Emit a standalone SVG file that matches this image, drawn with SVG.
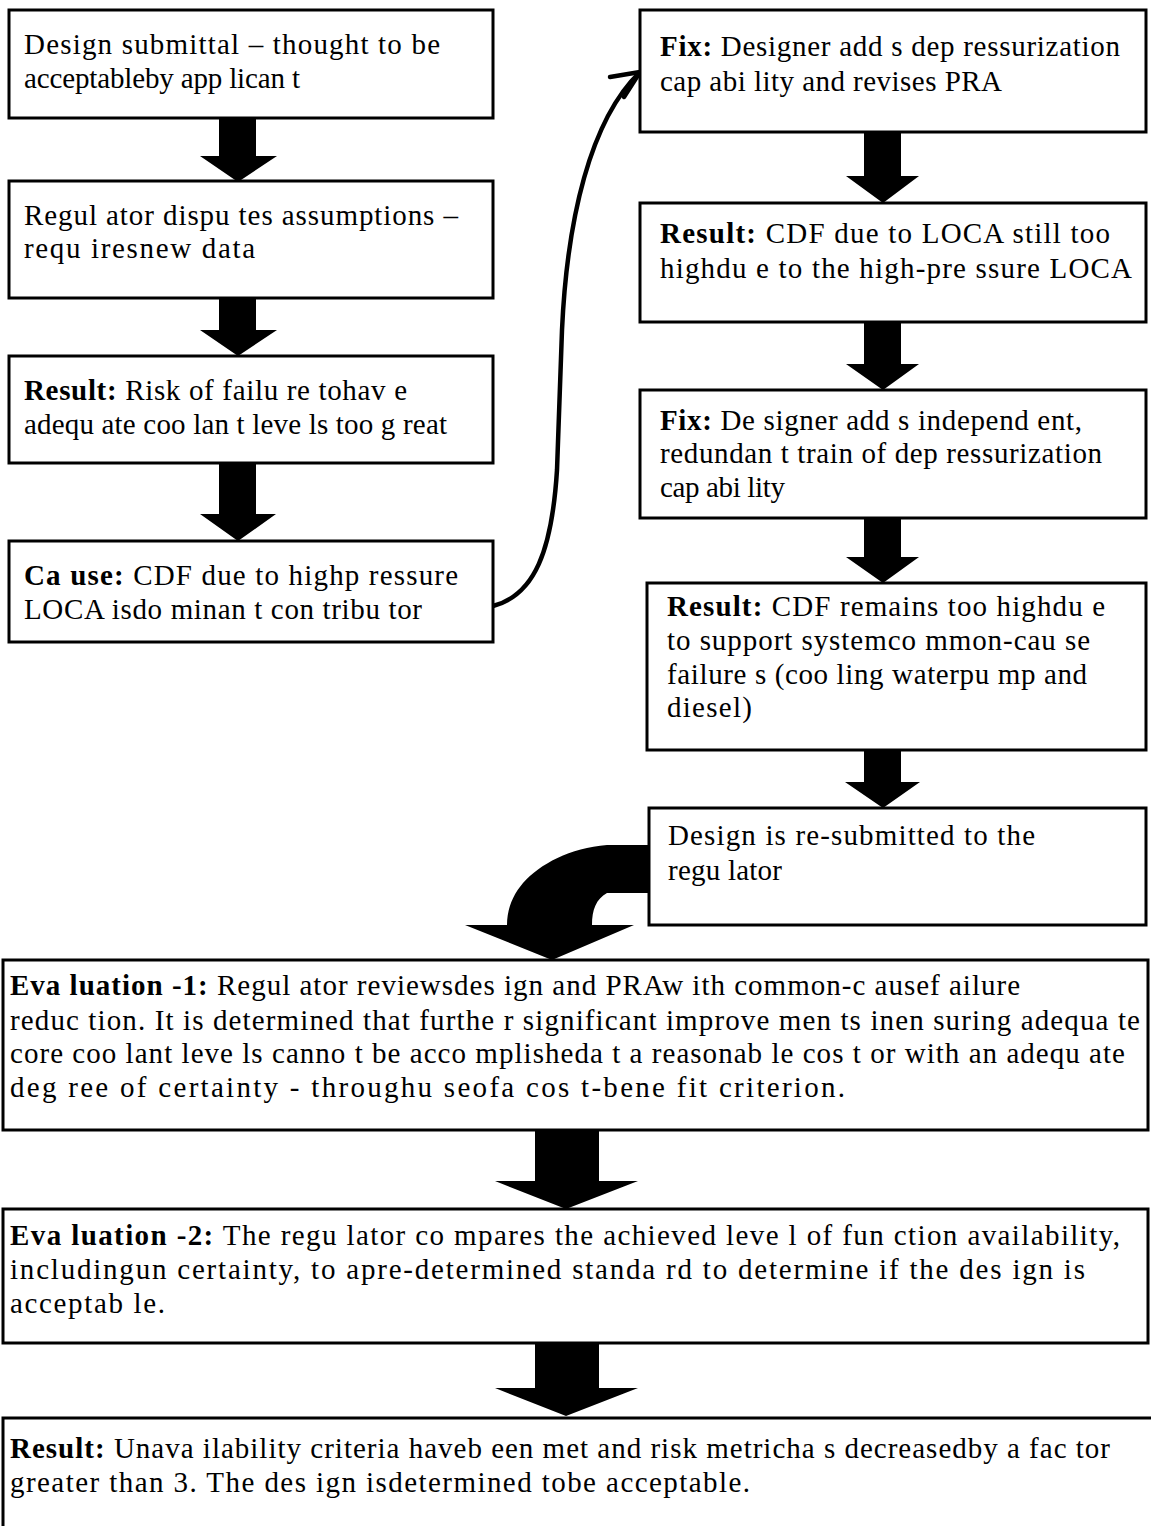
<svg xmlns="http://www.w3.org/2000/svg" width="1151" height="1526" viewBox="0 0 1151 1526">
  <style>
    .box { fill: #fff; stroke: #000; stroke-width: 3; }
    .blk { fill: #000; stroke: none; }
    .thin { fill: none; stroke: #000; stroke-width: 4.5; stroke-linecap: round; stroke-linejoin: round; }
    text { font-family: "Liberation Serif", "Times New Roman", serif; font-size: 29px; fill: #000; }
    .b { font-weight: bold; }
  </style>
  <rect width="1151" height="1526" fill="#fff"/>

  <!-- connectors -->
  <g id="connectors">
    <!-- left column block arrows -->
    <path class="blk" d="M219,118 H256 V156 H277 L238,182 L200,156 H219 Z"/>
    <path class="blk" d="M219,298 H256 V330 H277 L238,356 L200,330 H219 Z"/>
    <path class="blk" d="M219,463 H256 V514 H276 L238,541 L200,514 H219 Z"/>
    <!-- cause to first fix -->
    <path class="thin" d="M493,606 C535,595 552,550 557,470 L562,330 C567,220 590,120 640,72"/>
    <path class="thin" d="M610,77 L640,72 L624,97"/>
    <!-- right column block arrows -->
    <path class="blk" d="M864,132 H901 V176 H919 L883,203 L846,176 H864 Z"/>
    <path class="blk" d="M864,322 H901 V364 H919 L883,390 L846,364 H864 Z"/>
    <path class="blk" d="M864,518 H901 V557 H919 L883,583 L846,557 H864 Z"/>
    <path class="blk" d="M864,750 H901 V782 H920 L883,808 L845,782 H864 Z"/>
    <!-- resubmission to evaluation -->
    <path class="blk" d="M650,845 L607,845 C570,848 540,864 523,883 C512,896 507,910 507,925 L465,925 L552,960 L634,925 L592,925 C592,910 596,899 607,893 L650,893 Z"/>
    <!-- evaluation block arrows -->
    <path class="blk" d="M535,1130 H599 V1181 H638 L566,1209 L495,1181 H535 Z"/>
    <path class="blk" d="M535,1343 H599 V1388 H638 L566,1416 L495,1388 H535 Z"/>
  </g>

  <g id="n-submittal">
    <rect class="box" x="9" y="10" width="484" height="108"/>
    <text x="24" y="54" textLength="416" lengthAdjust="spacing">Design submittal – thought to be</text>
    <text x="24" y="88" textLength="276" lengthAdjust="spacing">acceptableby  app lican t</text>
  </g>
  <g id="n-dispute">
    <rect class="box" x="9" y="181" width="484" height="117"/>
    <text x="24" y="225" textLength="434" lengthAdjust="spacing">Regul ator dispu tes assumptions –</text>
    <text x="24" y="258" textLength="231" lengthAdjust="spacing">requ iresnew   data</text>
  </g>
  <g id="n-result-risk">
    <rect class="box" x="9" y="356" width="484" height="107"/>
    <text x="24" y="400" textLength="383" lengthAdjust="spacing"><tspan class="b">Result:</tspan> Risk of failu re tohav e</text>
    <text x="24" y="434" textLength="423" lengthAdjust="spacing">adequ ate coo lan t leve ls too g reat</text>
  </g>
  <g id="n-cause">
    <rect class="box" x="9" y="541" width="484" height="101"/>
    <text x="24" y="585" textLength="434" lengthAdjust="spacing"><tspan class="b">Ca use:</tspan> CDF due to highp ressure</text>
    <text x="24" y="619" textLength="398" lengthAdjust="spacing">LOCA  isdo minan t con tribu tor</text>
  </g>

  <g id="n-fix-1">
    <rect class="box" x="640" y="10" width="506" height="122"/>
    <text x="660" y="56" textLength="460" lengthAdjust="spacing"><tspan class="b">Fix:</tspan> Designer  add s dep ressurization</text>
    <text x="660" y="91" textLength="342" lengthAdjust="spacing">cap abi lity and  revises PRA</text>
  </g>
  <g id="n-result-1">
    <rect class="box" x="640" y="203" width="506" height="119"/>
    <text x="660" y="243" textLength="450" lengthAdjust="spacing"><tspan class="b">Result:</tspan> CDF due  to LOCA still too</text>
    <text x="660" y="278" textLength="472" lengthAdjust="spacing">highdu e to the high-pre ssure LOCA</text>
  </g>
  <g id="n-fix-2">
    <rect class="box" x="640" y="390" width="506" height="128"/>
    <text x="660" y="430" textLength="422" lengthAdjust="spacing"><tspan class="b">Fix:</tspan> De signer  add s independ ent,</text>
    <text x="660" y="463" textLength="442" lengthAdjust="spacing">redundan t train of dep ressurization</text>
    <text x="660" y="497" textLength="125" lengthAdjust="spacing">cap abi lity</text>
  </g>
  <g id="n-result-2">
    <rect class="box" x="647" y="583" width="499" height="167"/>
    <text x="667" y="616" textLength="438" lengthAdjust="spacing"><tspan class="b">Result:</tspan> CDF remains too  highdu e</text>
    <text x="667" y="650" textLength="423" lengthAdjust="spacing">to support systemco mmon-cau se</text>
    <text x="667" y="684" textLength="420" lengthAdjust="spacing">failure s (coo ling  waterpu mp and</text>
    <text x="667" y="717" textLength="85" lengthAdjust="spacing">diesel)</text>
  </g>
  <g id="n-resubmit">
    <rect class="box" x="649" y="808" width="497" height="117"/>
    <text x="668" y="845" textLength="367" lengthAdjust="spacing">Design is re-submitted to the</text>
    <text x="668" y="880" textLength="114" lengthAdjust="spacing">regu lator</text>
  </g>

  <g id="n-evaluation-1">
    <rect class="box" x="3" y="960" width="1145" height="170"/>
    <text x="10" y="995" textLength="1010" lengthAdjust="spacing"><tspan class="b">Eva luation -1:</tspan> Regul ator reviewsdes ign and PRAw ith common-c ausef ailure</text>
    <text x="10" y="1030" textLength="1130" lengthAdjust="spacing">reduc tion.  It is determined that furthe r significant improve men ts inen suring adequa te</text>
    <text x="10" y="1063" textLength="1115" lengthAdjust="spacing">core coo lant leve ls canno t be acco mplisheda t a reasonab le cos t or with an adequ ate</text>
    <text x="10" y="1097" textLength="835" lengthAdjust="spacing">deg ree of certainty - throughu seofa  cos t-bene fit criterion.</text>
  </g>
  <g id="n-evaluation-2">
    <rect class="box" x="3" y="1209" width="1145" height="134"/>
    <text x="10" y="1245" textLength="1110" lengthAdjust="spacing"><tspan class="b">Eva luation -2:</tspan> The regu lator co mpares the achieved leve l of fun ction  availability,</text>
    <text x="10" y="1279" textLength="1075" lengthAdjust="spacing">includingun certainty, to apre-determined  standa rd to determine if the des ign is</text>
    <text x="10" y="1313" textLength="155" lengthAdjust="spacing">acceptab le.</text>
  </g>
  <g id="n-final-result">
    <rect class="box" x="3" y="1418" width="1160" height="140"/>
    <text x="10" y="1458" textLength="1100" lengthAdjust="spacing"><tspan class="b">Result:</tspan> Unava ilability criteria haveb een met and risk metricha s decreasedby   a fac tor</text>
    <text x="10" y="1492" textLength="740" lengthAdjust="spacing">greater than  3.  The des ign isdetermined tobe  acceptable.</text>
  </g>
</svg>
